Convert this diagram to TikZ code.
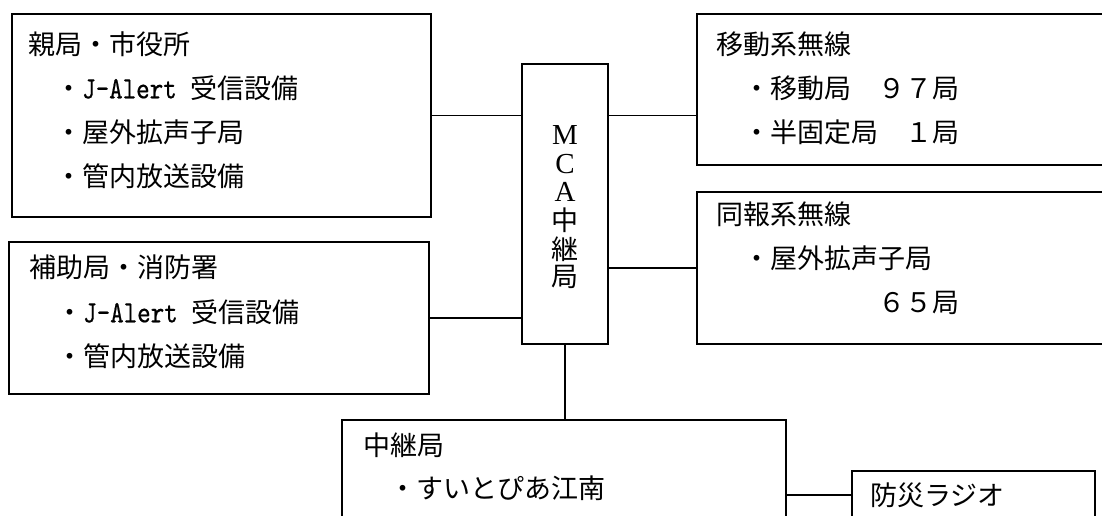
\documentclass[tikz,border=0pt]{standalone}
\usepackage{fontspec}
\newfontfamily\jp{Noto Sans CJK JP}
\newfontfamily\serif{Liberation Serif}
\newfontfamily\lmmono[FakeStretch=0.83,FakeBold=0.5]{lmmono10-regular.otf}
\newcommand\jpf{\jp\fontsize{27}{30}\selectfont}
\newcommand\mcf{\serif\fontsize{29}{32}\selectfont}
\newcommand\ttj[1]{{\lmmono\fontsize{31}{34}\selectfont #1}}
\begin{document}
\begin{tikzpicture}[x=1pt,y=-1pt,
  box/.style={draw, line width=1.6pt, inner sep=0pt, outer sep=0pt},
  conn/.style={line width=1.3pt},
  tl/.style={anchor=west, inner sep=0pt, font=\jpf, text height=23.8pt, text depth=3.2pt},
  mc/.style={inner sep=0pt, font=\mcf},
  mcj/.style={inner sep=0pt, font=\jpf}]
\useasboundingbox (0,0) rectangle (1102,516);
\clip (0,0) rectangle (1102,516);
% boxes
\node[box, minimum width=419pt, minimum height=203pt] (b1) at (221.5,115.5) {};
\node[box, minimum width=420pt, minimum height=152pt] (b2) at (219,318) {};
\node[box, minimum width=86pt, minimum height=280pt] (mca) at (565,204) {};
\node[box, minimum width=453pt, minimum height=151pt] (b3) at (923.5,89.5) {};
\node[box, minimum width=453pt, minimum height=152pt] (b4) at (923.5,268) {};
\node[box, minimum width=444pt, minimum height=140pt] (b5) at (564,490) {};
\node[box, minimum width=243pt, minimum height=89pt] (b6) at (973.5,515.5) {};
% texts box 1
\node[tl] (t11) at (28,44) {親局・市役所};
\node[tl] (t12) at (55,88) {・\ttj{J-Alert\ }受信設備};
\node[tl] (t13) at (55,132) {・屋外拡声子局};
\node[tl] (t14) at (55,176) {・管内放送設備};
% box 2
\node[tl] (t21) at (29,267) {補助局・消防署};
\node[tl] (t22) at (56,312) {・\ttj{J-Alert\ }受信設備};
\node[tl] (t23) at (56,356) {・管内放送設備};
% box 3
\node[tl] (t31) at (716,44) {移動系無線};
\node[tl] (t32) at (743,88) {・移動局　９７局};
\node[tl] (t33) at (743,132) {・半固定局　１局};
% box 4
\node[tl] (t41) at (716,214) {同報系無線};
\node[tl] (t42) at (743,258) {・屋外拡声子局};
\node[tl] (t43) at (878,302) {６５局};
% box 5, 6
\node[tl] (t51) at (363,445) {中継局};
\node[tl] (t52) at (389,488) {・すいとぴあ江南};
\node[tl] (t61) at (870,495) {防災ラジオ};
% MCA
\node[mc] (m1) at (565,135) {M};
\node[mc] (m2) at (565,164) {C};
\node[mc] (m3) at (565,192) {A};
\node[mcj] (m4) at (565,220) {中};
\node[mcj] (m5) at (565,249) {継};
\node[mcj] (m6) at (565,277) {局};
% connectors
\draw[conn] (b1.east) -- (b1.east -| mca.west);
\draw[conn] (b2.east) -- (b2.east -| mca.west);
\draw[conn] (mca.east |- b1.east) -- (b3.west |- b1.east);
\draw[conn] (b4.west -| mca.east) -- (b4.west);
\draw[conn] (mca.south) -- (mca.south |- b5.north);
\draw[conn] (b5.east |- t61) -- (b6.west |- t61);
\end{tikzpicture}
\end{document}
